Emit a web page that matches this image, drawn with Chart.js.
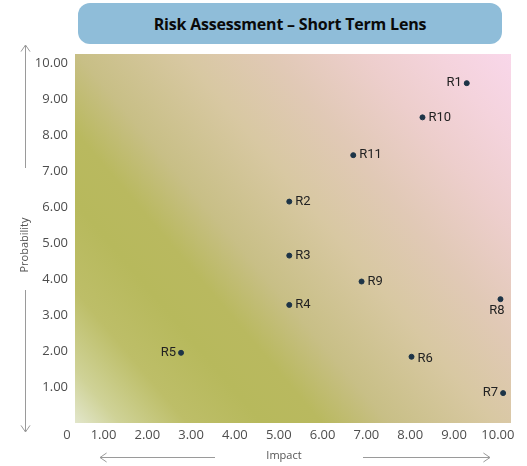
<!DOCTYPE html>
<html>
<head>
<meta charset="utf-8">
<script src="https://cdn.jsdelivr.net/npm/chart.js@4.4.1/dist/chart.umd.min.js"></script>
<style>
  html, body { margin: 0; padding: 0; background: #ffffff; }
  #wrap { position: relative; width: 527px; height: 466px; }
  #chartTitle {
    position: absolute; left: 78px; top: 3px; width: 424px; height: 41px;
    background: #8fbdd9; border-radius: 12px;
    font: bold 16px "Open Sans", sans-serif; color: #0a0a0a; letter-spacing: -0.2px;
    display: flex; align-items: center; justify-content: center;
  }
  canvas { position: absolute; left: 0; top: 0; }
</style>
</head>
<body>
<div id="wrap">
  <canvas id="riskChart" width="527" height="466"></canvas>
  <div id="chartTitle">Risk Assessment – Short Term Lens</div>
</div>
<script>
// risk register, short term view
var riskIds = ["R1", "R2", "R3", "R4", "R5", "R6", "R7", "R8", "R9", "R10", "R11"];
var impact = [9.29, 5.24, 5.24, 5.24, 2.77, 8.03, 10.12, 10.06, 6.89, 8.28, 6.70];
var probability = [9.44, 6.15, 4.65, 3.28, 1.95, 1.84, 0.83, 3.44, 3.93, 8.49, 7.44];
var impactTicks = [1, 2, 3, 4, 5, 6, 7, 8, 9, 10];
var probabilityTicks = [1, 2, 3, 4, 5, 6, 7, 8, 9, 10];

// where each risk id sits relative to its dot
var labelSide = ["left", "right", "right", "right", "left", "right", "left", "below", "right", "right", "right"];

var points = [];
for (var i = 0; i < riskIds.length; i++) {
    points.push({ x: impact[i], y: probability[i] });
}

var backdrop = {
    id: "backdrop",
    beforeDraw: function (chart) {
        var a = chart.chartArea;
        var ctx = chart.ctx;
        var g = ctx.createLinearGradient(a.left, a.bottom, a.right, a.top);
        g.addColorStop(0, "#e2e6cb");
        g.addColorStop(0.06, "#cfd297");
        g.addColorStop(0.15, "#bdbe68");
        g.addColorStop(0.25, "#b7b95c");
        g.addColorStop(0.33, "#b9b95f");
        g.addColorStop(0.42, "#c8bf86");
        g.addColorStop(0.56, "#d8c8a2");
        g.addColorStop(0.68, "#e1c9b6");
        g.addColorStop(0.8, "#edcecc");
        g.addColorStop(0.9, "#f4d3dc");
        g.addColorStop(1, "#f9d7ea");
        ctx.save();
        ctx.fillStyle = g;
        ctx.fillRect(a.left, a.top, a.right - a.left, a.bottom - a.top);
        ctx.restore();
    }
};

function arrowLine(ctx, x1, y1, x2, y2) {
    var ang = Math.atan2(y2 - y1, x2 - x1);
    ctx.beginPath();
    ctx.moveTo(x1, y1);
    ctx.lineTo(x2, y2);
    ctx.moveTo(x2 - 8 * Math.cos(ang - 0.6), y2 - 8 * Math.sin(ang - 0.6));
    ctx.lineTo(x2, y2);
    ctx.lineTo(x2 - 8 * Math.cos(ang + 0.6), y2 - 8 * Math.sin(ang + 0.6));
    ctx.stroke();
}

var annotations = {
    id: "annotations",
    afterDatasetsDraw: function (chart) {
        var ctx = chart.ctx;
        var meta = chart.getDatasetMeta(0);
        ctx.save();
        ctx.font = "13px Roboto";
        ctx.fillStyle = "#222222";
        ctx.textBaseline = "middle";
        meta.data.forEach(function (pt, i) {
            var side = labelSide[i];
            if (side == "left") {
                ctx.textAlign = "right";
                ctx.fillText(riskIds[i], pt.x - 5, pt.y);
            } else if (side == "below") {
                ctx.textAlign = "right";
                ctx.fillText(riskIds[i], pt.x + 4, pt.y + 12);
            } else {
                ctx.textAlign = "left";
                ctx.fillText(riskIds[i], pt.x + 6, pt.y + (riskIds[i] == "R6" ? 2 : 0));
            }
        });

        // corner zero and axis captions with arrows
        ctx.fillStyle = "#555555";
        ctx.font = "13px 'Open Sans'";
        ctx.textAlign = "center";
        ctx.fillText("0", 67, 435);

        ctx.font = "11px 'Open Sans'";
        ctx.fillText("Impact", 284, 456);
        ctx.save();
        ctx.translate(25, 245);
        ctx.rotate(-Math.PI / 2);
        ctx.fillText("Probability", 0, 0);
        ctx.restore();

        ctx.strokeStyle = "#9a9a9a";
        ctx.lineWidth = 1;
        arrowLine(ctx, 25.5, 168, 25.5, 45);
        arrowLine(ctx, 25.5, 290, 25.5, 432);
        arrowLine(ctx, 215, 457.5, 100, 457.5);
        arrowLine(ctx, 363, 457.5, 490, 457.5);
        ctx.restore();
    }
};

var myChart = new Chart(document.getElementById("riskChart"), {
    type: "scatter",
    data: {
        datasets: [{
            data: points,
            backgroundColor: "#1d3447",
            borderColor: "#1d3447",
            pointRadius: 2.5,
            pointHoverRadius: 2.5
        }]
    },
    options: {
        responsive: false,
        animation: false,
        events: [],
        layout: { padding: { left: 0, top: 54, right: 16, bottom: 0 } },
        plugins: {
            legend: { display: false },
            tooltip: { enabled: false },
            title: { display: false }
        },
        scales: {
            x: {
                type: "linear",
                min: 0.35,
                max: 10.3,
                grid: { display: false, drawTicks: false },
                border: { display: false },
                afterBuildTicks: function (s) {
                    s.ticks = impactTicks.map(function (v) { return { value: v }; });
                },
                afterFit: function (s) { s.height = 43; },
                ticks: {
                    padding: 4,
                    maxRotation: 0,
                    autoSkip: false,
                    color: "#4d4d4d",
                    font: { family: "'Open Sans'", size: 13 },
                    callback: function (v) { return Number(v).toFixed(2); }
                }
            },
            y: {
                type: "linear",
                min: 0,
                max: 10.25,
                grid: { display: false, drawTicks: false },
                border: { display: false },
                afterBuildTicks: function (s) {
                    s.ticks = probabilityTicks.map(function (v) { return { value: v }; });
                },
                afterFit: function (s) { s.width = 75; },
                ticks: {
                    padding: 7,
                    autoSkip: false,
                    color: "#4d4d4d",
                    font: { family: "'Open Sans'", size: 13 },
                    callback: function (v) { return Number(v).toFixed(2); }
                }
            }
        }
    },
    plugins: [backdrop, annotations]
});
</script>
</body>
</html>
